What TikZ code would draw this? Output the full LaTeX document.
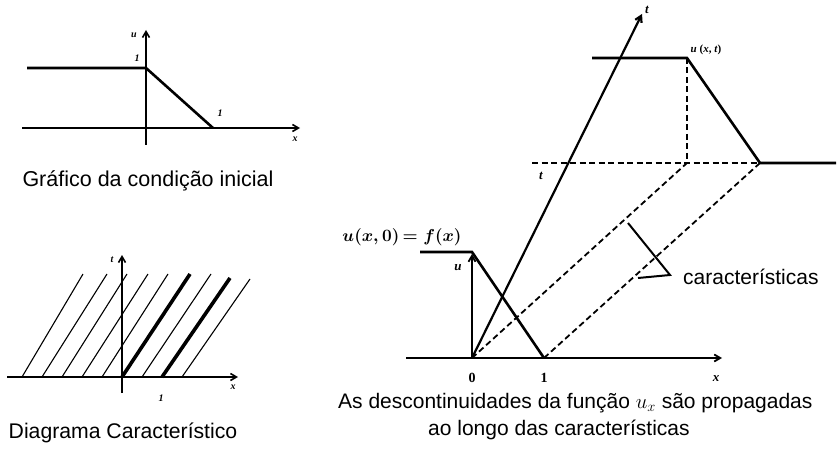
\documentclass[tikz,border=0pt]{standalone}
\usepackage{fontspec}
\setmainfont{Liberation Sans}
\newfontfamily\lblfont{Liberation Serif}
\usetikzlibrary{arrows.meta}
\begin{document}
\begin{tikzpicture}[x=1pt,y=-1pt,
  axis/.style={line width=1.6pt,-{Straight Barb[length=6pt,width=7pt]}},
  curve/.style={line width=2.6pt},
  thinchar/.style={line width=1.1pt},
  thickchar/.style={line width=3.6pt},
  dashline/.style={line width=1.8pt,dash pattern=on 6pt off 3.5pt},
  captext/.style={font=\fontsize{21}{25}\selectfont,inner sep=0pt},
  small/.style={font=\lblfont\bfseries\itshape\fontsize{10}{11}\selectfont,inner sep=0pt},
  mid/.style={font=\lblfont\bfseries\itshape\fontsize{13}{15}\selectfont,inner sep=0pt}]
\useasboundingbox (0,0) rectangle (838,468);

% ---------- top-left: initial condition ----------
\coordinate (ax0) at (22,128);
\coordinate (ax1) at (300,128);
\coordinate (au0) at (146,145);
\coordinate (au1) at (146,30);
\coordinate (a1) at (27,68);
\coordinate (a2) at (146,68);
\coordinate (a3) at (213,128);
\draw[axis] (ax0) -- (ax1);
\draw[axis] (au0) -- (au1);
\draw[curve] (a1) -- (a2) -- (a3);
\node[small] (lu) at (134,35) {u};
\node[small] (l1a) at (137,58) {1};
\node[small] (l1b) at (220,113) {1};
\node[small] (lx) at (295,139) {x};
\node[captext,font=\fontsize{21.5}{25}\selectfont] (cap1) at (148,181) {Gráfico da condição inicial};

% ---------- bottom-left: characteristic diagram ----------
\coordinate (bx0) at (7,377);
\coordinate (bx1) at (238,377);
\coordinate (bt0) at (122,393);
\coordinate (bt1) at (122,255);
\foreach \b/\tx/\ty in {-5/83/274,-4/107/274,-3/127/274,-2/148/274,-1/168/274,1/211/274,3/250/279}{
  \coordinate (cb\b) at ({122+20*\b},377);
  \coordinate (ct\b) at (\tx,\ty);
  \draw[thinchar] (cb\b) -- (ct\b);
}
\foreach \b/\tx/\ty in {0/190/274,2/230/278}{
  \coordinate (cb\b) at ({122+20*\b},377);
  \coordinate (ct\b) at (\tx,\ty);
  \draw[thickchar] (cb\b) -- (ct\b);
}
\draw[axis] (bx0) -- (bx1);
\draw[axis] (bt0) -- (bt1);
\node[small] (bt) at (112,260) {t};
\node[small] (bx) at (233,387) {x};
\node[small] (b1) at (161,398) {1};
\node[captext,font=\fontsize{21.2}{25}\selectfont] (cap2) at (123,433) {Diagrama Característico};

% ---------- right: propagation ----------
\coordinate (O) at (472,358);
\coordinate (one) at (544,358);
\coordinate (rx0) at (406,358);
\coordinate (rx1) at (722,358);
\coordinate (ru1) at (472,254);
\coordinate (rt1) at (642,14);
\coordinate (f0) at (420,252);
\coordinate (f1) at (472,252);
\coordinate (p0) at (592,58);
\coordinate (p1) at (687,58);
\coordinate (p2) at (760,163);
\coordinate (p3) at (836,163);
\coordinate (d0) at (532,163);
\coordinate (d1) at (687,163);
\coordinate (k0) at (628,223);
\coordinate (k1) at (670,275);
\coordinate (k2) at (638,278);

\draw[dashline] (d0) -- (p2);
\draw[dashline] (p1) -- (d1);
\draw[dashline] (O) -- (d1);
\draw[dashline] (one) -- (p2);
\draw[axis,line width=1.8pt] (rx0) -- (rx1);
\draw[axis,line width=1.8pt] (O) -- (ru1);
\draw[axis,line width=2.2pt] (O) -- (rt1);
\draw[curve] (f0) -- (f1) -- (one);
\draw[curve] (p0) -- (p1) -- (p2) -- (p3);
\draw[line width=2pt] (k0) -- (k1) -- (k2);

\node[mid] (ru) at (458,268) {u};
\node[mid,font=\lblfont\bfseries\fontsize{14}{16}\selectfont] (r0) at (472,378) {0};
\node[mid,font=\lblfont\bfseries\fontsize{14}{16}\selectfont] (r1) at (544,378) {1};
\node[mid] (rx) at (716,379) {x};
\node[mid,font=\fontsize{16}{18}\selectfont\boldmath] (fx) at (402,237) {$u(x{,}\,0)\,{=}\;f(x)$};
\node[mid,font=\lblfont\bfseries\fontsize{11}{13}\selectfont] (uxt) at (706,50) {\textit{u} (\textit{x}, \textit{t})};
\node[mid] (tl) at (541,176) {t};
\node[mid] (tt) at (647,10) {t};
\node[captext,anchor=west] (car) at (683,277) {características};
\node[captext,anchor=west] (cap3a) at (338,403) {As descontinuidades da função $u_x$ são propagadas};
\node[captext,anchor=west] (cap3b) at (428,430) {ao longo das características};
\end{tikzpicture}
\end{document}
